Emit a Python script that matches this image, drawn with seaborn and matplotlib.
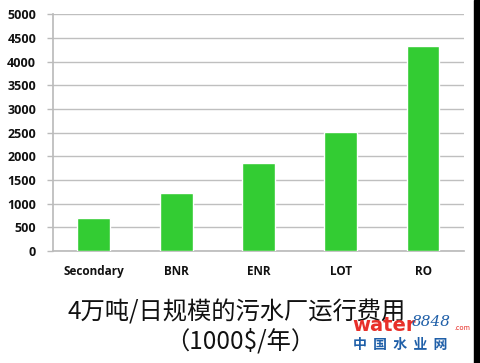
import matplotlib
matplotlib.use("Agg")
import matplotlib.pyplot as plt
import seaborn as sns
import pandas as pd
import numpy as np
from matplotlib.patches import Rectangle

categories = ["Secondary", "BNR", "ENR", "LOT", "RO"]
values = [700, 1220, 1850, 2520, 4320]
yticks = [0, 500, 1000, 1500, 2000, 2500, 3000, 3500, 4000, 4500, 5000]
title_line1 = "4万吨/日规模的污水厂运行费用"
title_line2 = "（1000$/年）"

sns.set_theme(style="white")
plt.rcParams['font.family'] = ['Noto Sans CJK SC', 'DejaVu Sans']

df = pd.DataFrame({"cat": categories, "val": values})

fig = plt.figure(figsize=(4.8, 3.63), dpi=100)
ax = fig.add_axes([0.110, 0.3085, 0.857, 0.6525])
sns.barplot(data=df, x="cat", y="val", color="#33CC33", width=0.4,
            saturation=1, ax=ax, zorder=3)

ax.set_ylim(0, 5000)
ax.set_xlim(-0.5, 4.5)
ax.set_yticks(yticks)
ax.set_yticklabels([str(t) for t in yticks], fontsize=9, fontweight="bold",
                   family=['Open Sans', 'DejaVu Sans'], color="#111111")
ax.set_xticks(range(len(categories)))
ax.set_xticklabels(categories, fontsize=8.5, fontweight="bold",
                   family=['Open Sans', 'DejaVu Sans'], color="#111111")
ax.set_xticks(np.arange(-0.5, 5, 1.0), minor=True)
ax.tick_params(axis="x", which="major", length=0, pad=10)
ax.tick_params(axis="x", which="minor", length=4, color="#BBBBBB", width=1)
ax.tick_params(axis="y", which="major", length=4, color="#BBBBBB", width=1, pad=8, left=True)
ax.set_xlabel("")
ax.set_ylabel("")
ax.yaxis.grid(True, color="#BFBFBF", linewidth=1.0, zorder=0)
ax.set_axisbelow(True)
for s in ["top", "right"]:
    ax.spines[s].set_visible(False)
ax.spines["left"].set_color("#BBBBBB")
ax.spines["bottom"].set_color("#BBBBBB")

fig.text(0.493, 0.14, title_line1, ha="center", va="center", fontsize=17.5, color="#111111")
fig.text(0.50, 0.058, title_line2, ha="center", va="center", fontsize=17.5, color="#111111")

# watermark
fig.text(0.733, 0.102, "water", ha="left", va="center", fontsize=14, fontweight="bold",
         color="#E8302A", family=['DejaVu Sans'], zorder=5)
fig.text(0.858, 0.112, "8848", ha="left", va="center", fontsize=11, style="italic",
         color="#1F5FA8", family=['DejaVu Serif'], zorder=5)
fig.text(0.947, 0.097, ".com", ha="left", va="center", fontsize=5, color="#E8302A", zorder=5)
fig.text(0.735, 0.049, "中  国  水  业  网", ha="left", va="center", fontsize=10,
         fontweight="bold", color="#1F5FA8", zorder=5)

fig.patches.append(Rectangle((0.987, 0), 0.013, 1, transform=fig.transFigure,
                             color="black", zorder=10))

fig.savefig("out.png", dpi=100)
